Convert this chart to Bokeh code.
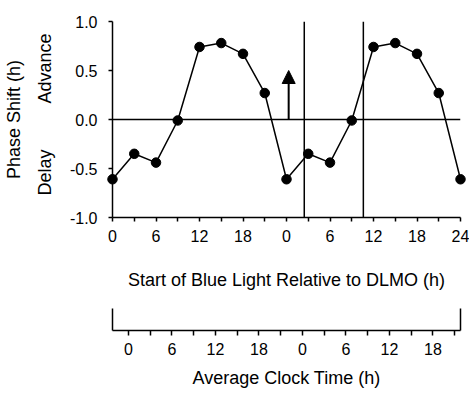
from bokeh.plotting import figure
from bokeh.models import (Range1d, FixedTicker, Span, Arrow, NormalHead,
                          NumeralTickFormatter, LinearAxis)
from bokeh.embed import file_html
from bokeh.resources import INLINE

# ---------------- data ----------------
hours = [0, 3, 6, 9, 12, 15, 18, 21, 24, 27, 30, 33, 36, 39, 42, 45, 48]
phase_shift = [-0.61, -0.35, -0.44, -0.01, 0.74, 0.78, 0.67, 0.27,
               -0.61, -0.35, -0.44, -0.01, 0.74, 0.78, 0.67, 0.27, -0.61]

rel_ticks = [0, 3, 6, 9, 12, 15, 18, 21, 24, 27, 30, 33, 36, 39, 42, 45, 48]
rel_tick_labels = ["0", "", "6", "", "12", "", "18", "", "0", "", "6", "", "12", "", "18", "", "24"]

clock_offset = 2.2          # clock 0 h relative to DLMO axis (h)
clock_ticks = [0, 3, 6, 9, 12, 15, 18, 21, 24, 27, 30, 33, 36, 39, 42, 45]
clock_tick_labels = ["0", "", "6", "", "12", "", "18", "", "0", "", "6", "", "12", "", "18", ""]

sleep_lines = [26.45, 34.6]     # vertical reference lines (h)
arrow_x = 24.3
arrow_tip = 0.5

y_ticks = [-1.0, -0.5, 0.0, 0.5, 1.0]
side_label_pos = [0.52, -0.54]
side_label_text = ["Advance", "Delay"]

FONT = "Liberation Sans"
X0, X1 = hours[0], hours[-1]

# ---------------- figure ----------------
p = figure(frame_width=348, frame_height=196,
           min_border_left=112, min_border_right=9, min_border_top=21, min_border_bottom=177,
           x_range=Range1d(X0, X1), y_range=Range1d(-1, 1),
           output_backend="svg", toolbar_location=None)
p.outline_line_color = None
p.xgrid.visible = False
p.ygrid.visible = False

xa = p.xaxis[0]
xa.ticker = FixedTicker(ticks=rel_ticks)
xa.major_label_overrides = {t: l for t, l in zip(rel_ticks, rel_tick_labels)}
xa.major_tick_out = 4
xa.major_tick_in = 0
xa.minor_tick_out = 0
xa.minor_tick_in = 0
xa.axis_line_width = 1.5
xa.major_tick_line_width = 1.5
xa.major_label_standoff = 8
xa.major_label_text_font = FONT
xa.major_label_text_font_size = "16px"
xa.major_label_text_color = "black"
xa.axis_label = "Start of Blue Light Relative to DLMO (h)"
xa.axis_label_text_font = FONT
xa.axis_label_text_font_size = "18px"
xa.axis_label_text_font_style = "normal"
xa.axis_label_text_color = "black"
xa.axis_label_standoff = 25

ya = p.yaxis[0]
ya.ticker = FixedTicker(ticks=y_ticks)
ya.formatter = NumeralTickFormatter(format="0.0")
ya.major_tick_out = 4
ya.major_tick_in = 0
ya.minor_tick_out = 0
ya.minor_tick_in = 0
ya.axis_line_width = 1.5
ya.major_tick_line_width = 1.5
ya.major_label_standoff = 11
ya.major_label_text_font = FONT
ya.major_label_text_font_size = "16px"
ya.major_label_text_color = "black"

# second left axis: "Advance" / "Delay" and the axis title
side = LinearAxis(ticker=FixedTicker(ticks=side_label_pos))
side.major_label_overrides = {t: l for t, l in zip(side_label_pos, side_label_text)}
side.major_label_orientation = "vertical"
side.axis_line_color = None
side.major_tick_line_color = None
side.major_tick_out = 0
side.major_tick_in = 0
side.minor_tick_out = 0
side.minor_tick_in = 0
side.major_label_standoff = 11
side.major_label_text_font = FONT
side.major_label_text_font_size = "18px"
side.major_label_text_color = "black"
side.axis_label = "Phase Shift (h)"
side.axis_label_text_font = FONT
side.axis_label_text_font_size = "18px"
side.axis_label_text_font_style = "normal"
side.axis_label_text_color = "black"
side.axis_label_standoff = 9
p.add_layout(side, "left")

# invisible spacer between the two horizontal axes
spacer = LinearAxis(ticker=FixedTicker(ticks=[hours[8]]), axis_line_color=None,
                    major_tick_out=38, major_tick_in=0, minor_tick_out=0, minor_tick_in=0,
                    major_tick_line_color=None, major_label_standoff=0,
                    major_label_text_font_size="1px", major_label_text_color=None,
                    major_label_overrides={hours[8]: " "})
p.add_layout(spacer, "below")

# clock-time axis with bracket ends
p.extra_x_ranges = {"clock": Range1d(X0 - clock_offset, X1 - clock_offset)}
ca = LinearAxis(x_range_name="clock")
ca.ticker = FixedTicker(ticks=clock_ticks, minor_ticks=[X0 - clock_offset, X1 - clock_offset])
ca.major_label_overrides = {t: l for t, l in zip(clock_ticks, clock_tick_labels)}
ca.major_tick_out = 5
ca.major_tick_in = 0
ca.minor_tick_out = 0
ca.minor_tick_in = 22
ca.minor_tick_line_width = 1.5
ca.axis_line_width = 1.5
ca.major_tick_line_width = 1.5
ca.major_label_standoff = 7
ca.major_label_text_font = FONT
ca.major_label_text_font_size = "16px"
ca.major_label_text_color = "black"
ca.axis_label = "Average Clock Time (h)"
ca.axis_label_text_font = FONT
ca.axis_label_text_font_size = "18px"
ca.axis_label_text_font_style = "normal"
ca.axis_label_text_color = "black"
ca.axis_label_standoff = 10
p.add_layout(ca, "below")

# reference lines
p.add_layout(Span(location=0, dimension="width", line_color="black", line_width=1.3))
for sx in sleep_lines:
    p.add_layout(Span(location=sx, dimension="height", line_color="black", line_width=1.5))

p.line(hours, phase_shift, line_color="black", line_width=1.5, level="overlay")
p.scatter(hours, phase_shift, size=9.5, fill_color="black", line_color="black", level="overlay")

p.add_layout(Arrow(end=NormalHead(size=13, fill_color="black", line_color="black"),
                   x_start=arrow_x, y_start=0, x_end=arrow_x, y_end=arrow_tip,
                   line_color="black", line_width=2))

open("out.html", "w").write(file_html(p, INLINE))
